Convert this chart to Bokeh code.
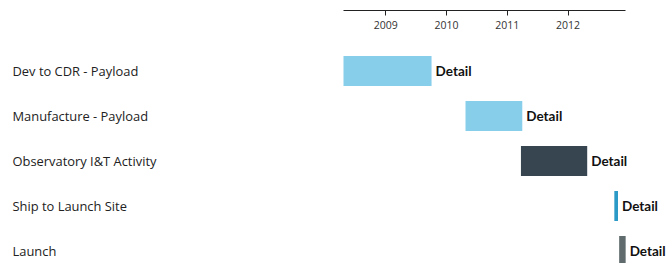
import pandas as pd
from bokeh.plotting import figure
from bokeh.models import ColumnDataSource, Range1d, FixedTicker, DatetimeTickFormatter
from bokeh.core.properties import value
from bokeh.embed import file_html
from bokeh.resources import INLINE

# ---- data ----
tasks = ["Dev to CDR - Payload", "Manufacture - Payload", "Observatory I&T Activity",
         "Ship to Launch Site", "Launch"]
starts = ["2008-04-22", "2010-04-25", "2011-03-24", "2012-10-05", "2012-11-03"]
ends = ["2009-10-03", "2011-04-01", "2012-04-25", "2012-10-27", "2012-12-12"]
colors = ["#87CEEB", "#87CEEB", "#36454F", "#2B9AC6", "#5F6B6D"]
tick_years = [2009, 2010, 2011, 2012]
detail_text = "Detail"

# ---- layout constants ----
W, H = 669, 263
PX_PER_YEAR = 60.8
YEAR_MS = 365.25 * 86400000.0
px_per_ms = PX_PER_YEAR / YEAR_MS
ROW_PX = 45.0

start_dt = pd.to_datetime(starts)
end_dt = pd.to_datetime(ends)
start_ms = start_dt.astype("int64") // 10**6

axis_left_px = 343.0  # frame-relative position of first start
x0 = float(start_ms.min()) - axis_left_px / px_per_ms
x1 = x0 + W / px_per_ms

top_px = 10.0  # frame top offset in figure
first_center = 60.5
y_top = -first_center / ROW_PX
y_bot = y_top + (H - top_px) / ROW_PX

rows = list(range(len(tasks)))
src = ColumnDataSource(dict(
    row=rows, task=tasks, start=start_dt, end=end_dt, color=colors,
    detail=[detail_text] * len(tasks), label_x=[x0] * len(tasks),
))

p = figure(width=W, height=H, output_backend="svg", toolbar_location=None,
           x_axis_type="datetime", x_axis_location="above", y_axis_location=None,
           x_range=Range1d(x0, x1), y_range=Range1d(y_bot, y_top),
           min_border_left=0, min_border_right=0, min_border_top=int(top_px),
           min_border_bottom=0, outline_line_color=None, background_fill_color="white",
           border_fill_color="white")
p.grid.visible = False

p.hbar(y="row", left="start", right="end", height=30 / ROW_PX, fill_color="color",
       line_color=None, source=src)

p.text(x="label_x", y="row", text="task", x_offset=12, source=src,
       text_font=value("Open Sans"), text_font_size="12.9px", text_color="#222222",
       text_baseline="middle", text_align="left")

p.text(x="end", y="row", text="detail", x_offset=4, source=src,
       text_font=value("Lato"), text_font_size="13.5px", text_font_style="bold",
       text_color="#111111", text_baseline="middle", text_align="left")

ax = p.xaxis[0]
ax.bounds = (pd.Timestamp(start_dt.min()), pd.Timestamp(end_dt.max()))
ax.ticker = FixedTicker(ticks=[pd.Timestamp(f"{y}-01-01").value / 1e6 for y in tick_years])
ax.formatter = DatetimeTickFormatter(years="%Y", months="%Y", days="%Y")
ax.major_tick_out = 0
ax.major_tick_in = 5
ax.minor_tick_line_color = None
ax.major_label_standoff = -18
ax.major_label_text_font = "Open Sans"
ax.major_label_text_font_size = "10.5px"
ax.major_label_text_color = "#333333"
ax.axis_line_color = "#222222"
ax.major_tick_line_color = "#222222"

open("out.html", "w").write(file_html(p, INLINE))
